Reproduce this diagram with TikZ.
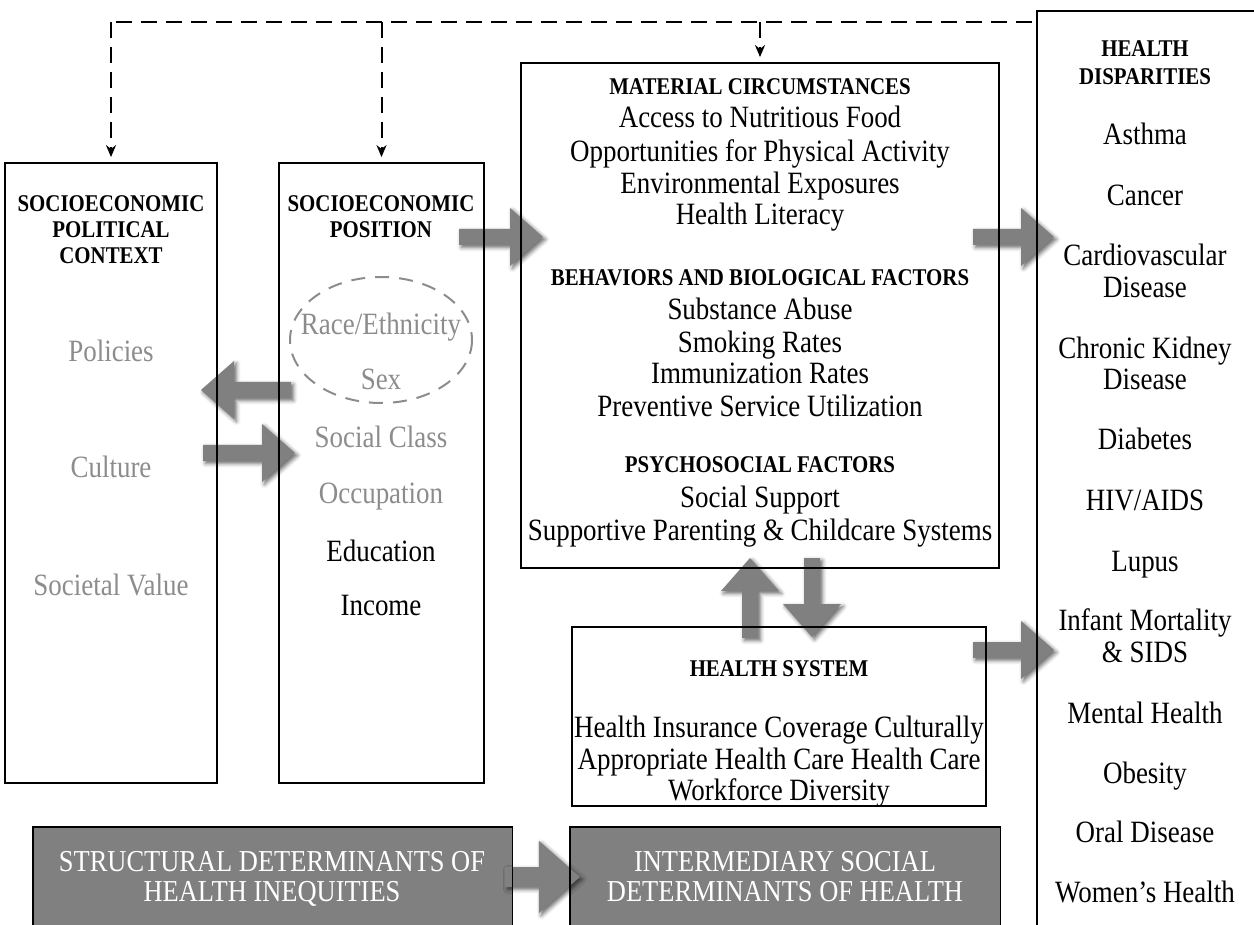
\documentclass[tikz,border=0pt]{standalone}
\usepackage{fontspec}
\setmainfont{Liberation Serif}[FakeStretch=0.87]
\usetikzlibrary{arrows.meta,fit,shadows.blur}

\definecolor{blockgray}{RGB}{128,128,128}
\definecolor{itemgray}{RGB}{140,140,140}

\tikzset{
  box/.style={draw, line width=0.9pt, inner sep=0pt},
  shadebox/.style={fill=blockgray, inner sep=0pt},
  boxline/.style={line width=0.9pt},
  heading/.style={font=\bfseries\fontsize{12}{14}\selectfont, anchor=base},
  item/.style={font=\fontsize{15.5}{17}\selectfont, anchor=base},
  faint/.style={item, text=itemgray},
  banner/.style={font=\fontsize{15.2}{17}\selectfont, anchor=base, text=white},
  dashline/.style={line width=1pt, dash pattern=on 8pt off 4.5pt},
  blockfill/.style={fill=blockgray, blur shadow={shadow xshift=1.2pt, shadow yshift=-1.2pt, shadow blur radius=2pt, shadow opacity=60}}
}

% fat arrow: [scale]{tail x}{tail y}{angle}{length}
\newcommand{\blockarrow}[5][1]{%
  \begin{scope}[shift={(#2,#3)}, rotate=#4, scale=#1]
    \fill[blockfill] (0,-8) -- ({#5-33},-8) -- ({#5-33},-29) -- (#5,0)
      -- ({#5-33},29) -- ({#5-33},8) -- (0,8) -- cycle;
  \end{scope}}

\begin{document}
\begin{tikzpicture}[x=0.5pt, y=-0.5pt]
\useasboundingbox (0,0) rectangle (1254,925);

% grey bottom boxes
\node[shadebox, fit={(33,827) (512,935)}] (struct) {};
\node[shadebox, fit={(570,827) (1000,935)}] (inter) {};

% fat arrows
\blockarrow{459}{237}{0}{84}
\blockarrow{291}{390}{180}{90}
\blockarrow{203}{453}{0}{92}
\blockarrow{973}{237}{0}{81}
\blockarrow{973}{650}{0}{81}
\blockarrow{750}{638}{90}{80}
\blockarrow{812}{558}{-90}{79}
\blockarrow[1.25]{505}{877}{0}{60}

% boxes
\node[box, fit={(5,163) (217,783)}] (ctx) {};
\node[box, fit={(279,163) (484,783)}] (pos) {};
\node[box, fit={(521,63) (999,568)}] (mat) {};
\node[box, fit={(572,627) (986,806)}] (hsys) {};
\draw[boxline] (struct.south west) rectangle (struct.north east);
\draw[boxline] (inter.south west) rectangle (inter.north east);
\coordinate (dtop) at (1037,11);
\draw[boxline] (1037,930) -- (dtop) -- (1260,11);

% dashed feedback
\coordinate (dstart) at (1032,22);
\draw[dashline] (dstart) -- (ctx.north |- dstart);
\draw[dashline, -{Stealth[length=6pt,width=5pt]}, shorten >=2.5pt] (ctx.north |- dstart) -- (ctx.north);
\draw[dashline, -{Stealth[length=6pt,width=5pt]}, shorten >=2.5pt] (pos.north |- dstart) -- (pos.north);
\draw[dashline, -{Stealth[length=6pt,width=5pt]}, shorten >=2.5pt] (mat.north |- dstart) -- (mat.north);

% socioeconomic political context
\node[heading] (ctx1) at (111,212) {SOCIOECONOMIC};
\node[heading] (ctx2) at (111,238) {POLITICAL};
\node[heading] (ctx3) at (111,264) {CONTEXT};
\node[faint] (policies) at (111,362) {Policies};
\node[faint] (culture) at (111,478) {Culture};
\node[faint] (values) at (111,595) {Societal Value};

% socioeconomic position
\node[heading] (pos1) at (381,212) {SOCIOECONOMIC};
\node[heading] (pos2) at (381,238) {POSITION};
\draw[itemgray, line width=1pt, dash pattern=on 7pt off 5pt] (381,340) ellipse [x radius=91, y radius=63];
\node[faint] (race) at (381,335) {Race/Ethnicity};
\node[faint] (sex) at (381,390) {Sex};
\node[faint] (class) at (381,447) {Social Class};
\node[faint] (occ) at (381,503) {Occupation};
\node[item] (edu) at (381,561) {Education};
\node[item] (income) at (381,615) {Income};

% material circumstances etc.
\node[heading] (mat1) at (760,95) {MATERIAL CIRCUMSTANCES};
\node[item] (mat2) at (760,128) {Access to Nutritious Food};
\node[item] (mat3) at (760,162) {Opportunities for Physical Activity};
\node[item] (mat4) at (760,194) {Environmental Exposures};
\node[item] (mat5) at (760,225) {Health Literacy};
\node[heading] (beh1) at (760,286) {BEHAVIORS AND BIOLOGICAL FACTORS};
\node[item] (beh2) at (760,320) {Substance Abuse};
\node[item] (beh3) at (760,353) {Smoking Rates};
\node[item] (beh4) at (760,384) {Immunization Rates};
\node[item] (beh5) at (760,416) {Preventive Service Utilization};
\node[heading] (psy1) at (760,473) {PSYCHOSOCIAL FACTORS};
\node[item] (psy2) at (760,507) {Social Support};
\node[item] (psy3) at (760,540) {Supportive Parenting \& Childcare Systems};

% health system
\node[heading] (hs1) at (779,676) {HEALTH SYSTEM};
\node[item] (hs2) at (779,737) {Health Insurance Coverage Culturally};
\node[item] (hs3) at (779,769) {Appropriate Health Care Health Care};
\node[item] (hs4) at (779,800) {Workforce Diversity};

% health disparities
\node[heading] (hd1) at (1145,57) {HEALTH};
\node[heading] (hd2) at (1145,85) {DISPARITIES};
\node[item] (d1) at (1145,145) {Asthma};
\node[item] (d2) at (1145,206) {Cancer};
\node[item] (d3) at (1145,266) {Cardiovascular};
\node[item] (d3b) at (1145,298) {Disease};
\node[item] (d4) at (1145,358) {Chronic Kidney};
\node[item] (d4b) at (1145,390) {Disease};
\node[item] (d5) at (1145,450) {Diabetes};
\node[item] (d6) at (1145,510) {HIV/AIDS};
\node[item] (d7) at (1145,571) {Lupus};
\node[item] (d8) at (1145,630) {Infant Mortality};
\node[item] (d8b) at (1145,662) {\& SIDS};
\node[item] (d9) at (1145,723) {Mental Health};
\node[item] (d10) at (1145,783) {Obesity};
\node[item] (d11) at (1145,842) {Oral Disease};
\node[item] (d12) at (1145,902) {Women’s Health};

% bottom labels
\node[banner] (st1) at (272,871) {STRUCTURAL DETERMINANTS OF};
\node[banner] (st2) at (272,901) {HEALTH INEQUITIES};
\node[banner] (in1) at (785,871) {INTERMEDIARY SOCIAL};
\node[banner] (in2) at (785,901) {DETERMINANTS OF HEALTH};

\end{tikzpicture}
\end{document}
